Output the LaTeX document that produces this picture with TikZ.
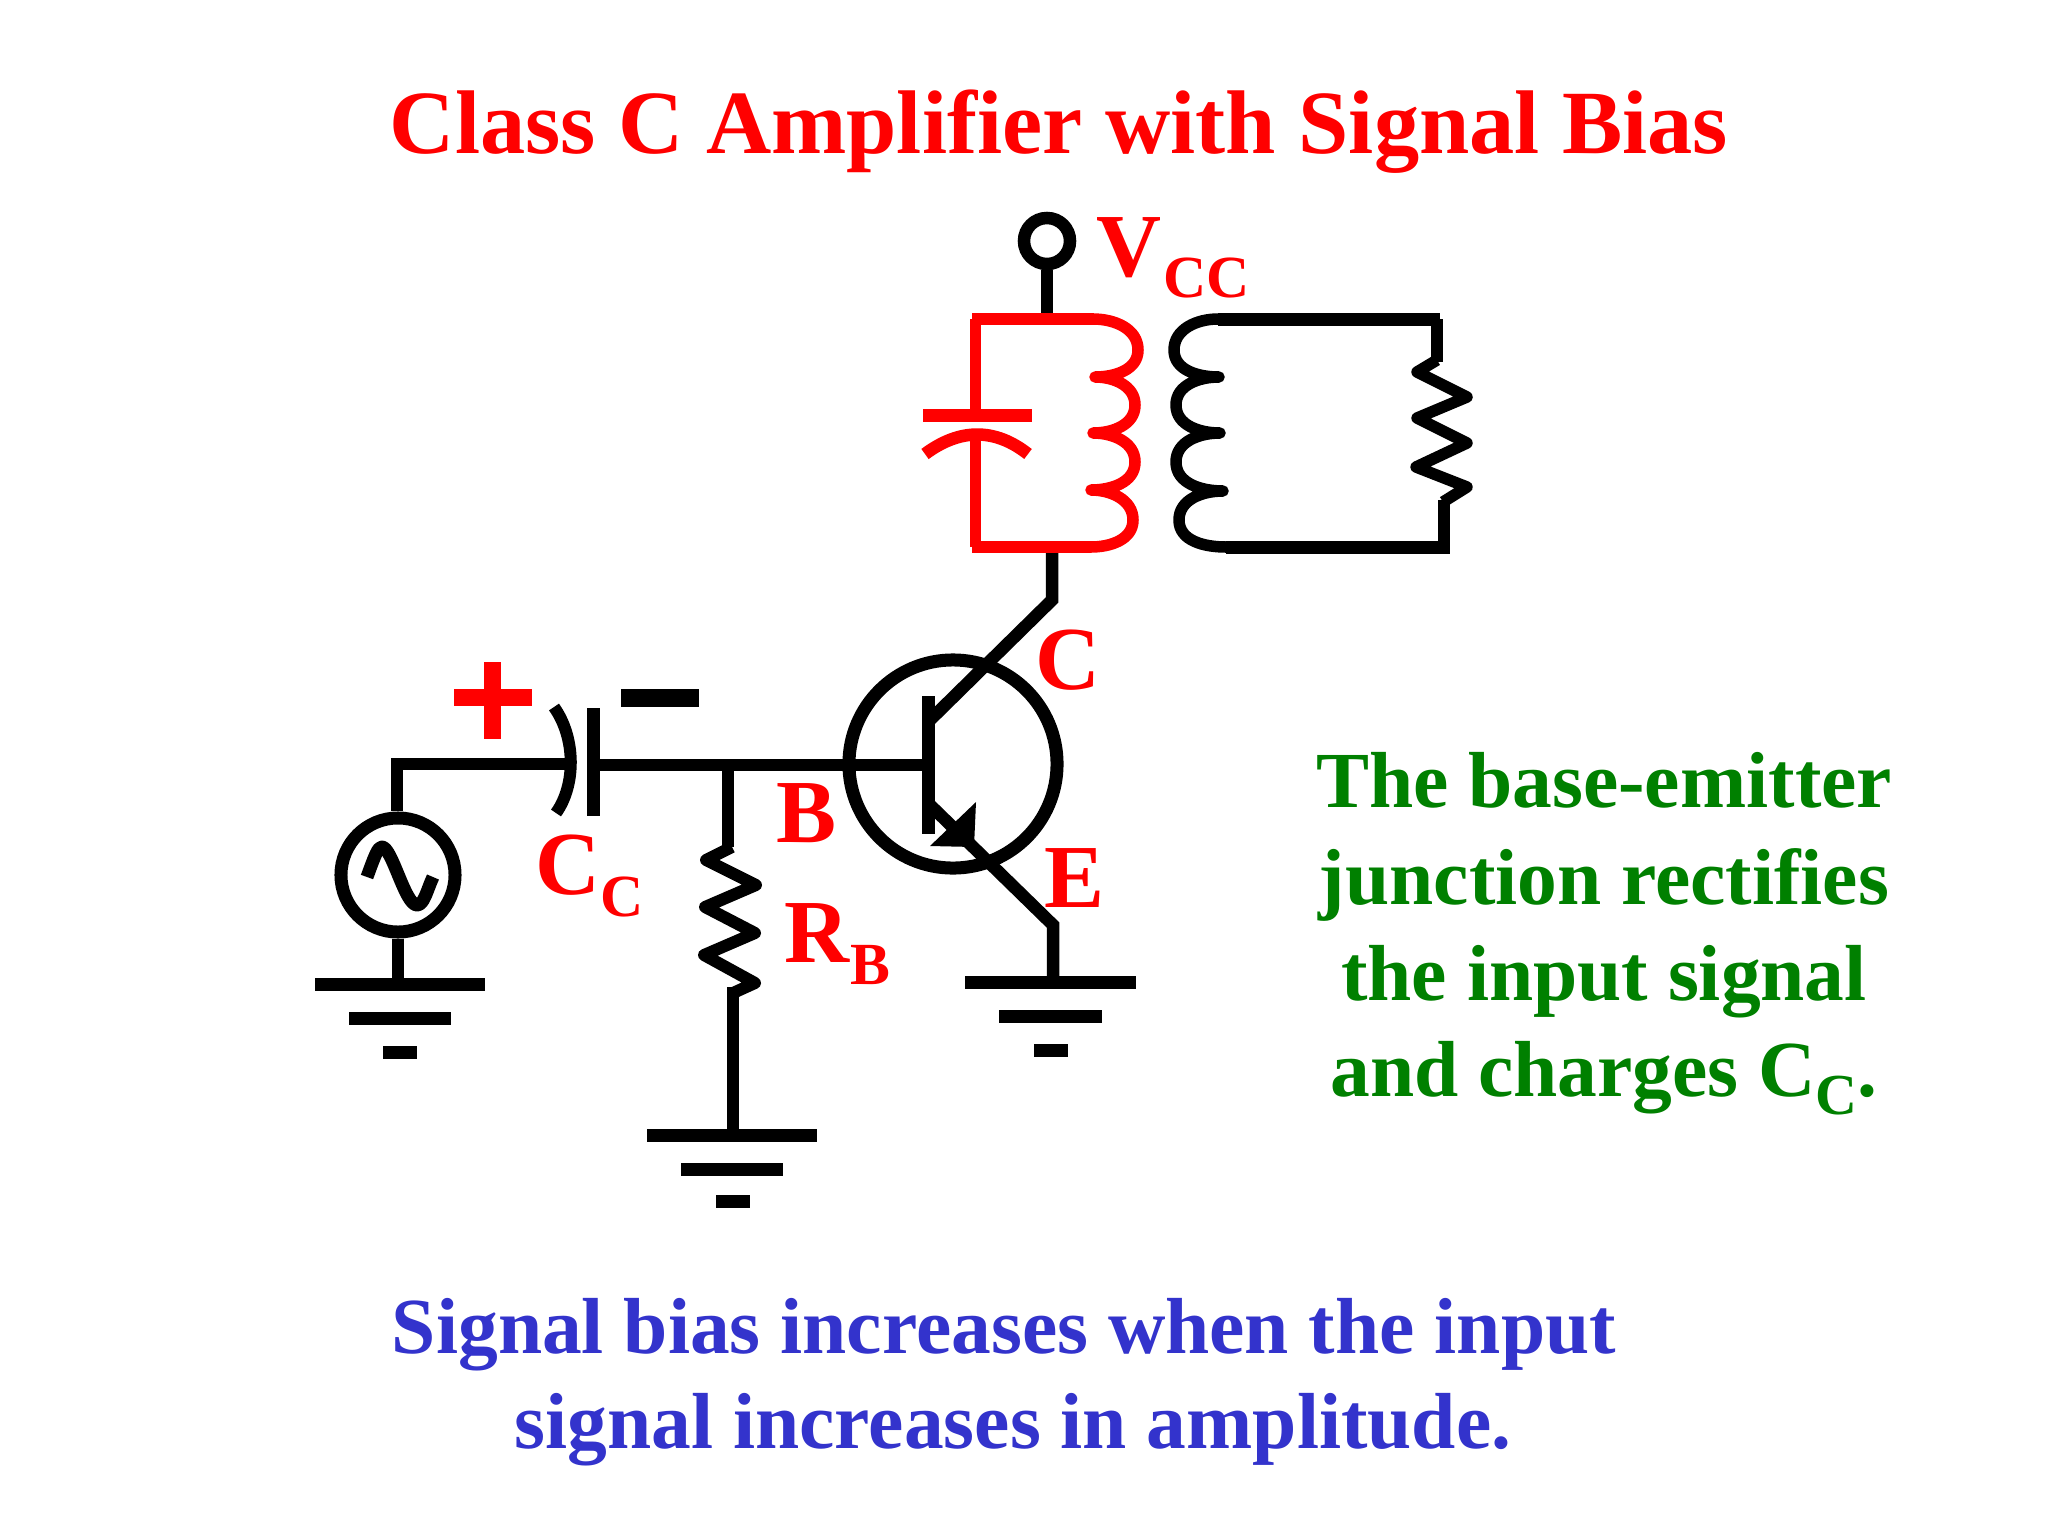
\documentclass[tikz,border=0pt]{standalone}
\usepackage{fontspec}
\setmainfont{Liberation Serif}
\newcommand{\fpx}[1]{\fontsize{#1}{#1}\selectfont\bfseries}
\definecolor{tred}{HTML}{FF0000}
\definecolor{tgreen}{HTML}{008000}
\definecolor{tblue}{HTML}{3333CC}
\begin{document}
\begin{tikzpicture}[x=0.01cm,y=-0.01cm,
  wire/.style={line width=1.25mm,black},
  plate/.style={line width=1.3mm},
  rwire/.style={line width=1.25mm,tred},
  coil/.style={line width=1.15mm,line cap=round,line join=round},
  title/.style={text=tred,font=\fpx{25.7},anchor=base,inner sep=0pt},
  lab/.style={text=tred,font=\fpx{25.6},anchor=base west,inner sep=0pt},
  sublab/.style={text=tred,font=\fpx{17},anchor=base west,inner sep=0pt},
  gtext/.style={text=tgreen,font=\fpx{22.6},anchor=base,inner sep=0pt},
  btext/.style={text=tblue,font=\fpx{22.6},anchor=base,inner sep=0pt},
  ring/.style={circle,draw=black,fill=white,inner sep=0pt}]
\fill[white] (0,0) rectangle (2048,1536);
\useasboundingbox (0,0) rectangle (2048,1536);

% named points
\coordinate (jtop) at (1049,319);
\coordinate (jbot) at (1052,547);
\coordinate (cbend) at (1052,600);
\coordinate (cbar) at (928,722);
\coordinate (ebar) at (928,803);
\coordinate (ebend) at (1053,925);
\coordinate (gE) at (1053,982);
\coordinate (gS) at (398,984);
\coordinate (gR) at (733,1135);
\coordinate (base) at (928,765);
\coordinate (jR) at (728,765);
\coordinate (capR) at (592,765);
\coordinate (capL) at (572,764);
\coordinate (corner) at (397,764);

% source, wires
\node[ring,line width=1.3mm,minimum size=1.14cm] (src) at (398,875) {};
\draw[wire] (src.south) -- (gS);
\draw[wire] (src.north -| corner) -- (corner) -- (capL);
\draw[line width=1.3mm,line join=round] (367,877) .. controls (375,855) and (378,847) .. (382,847)
  .. controls (392,847) and (405,905) .. (417,905)
  .. controls (424,905) and (427,890) .. (433,877);
% grounds
\draw[plate] (315,984) -- (485,984);
\draw[plate] (349,1018) -- (451,1018);
\draw[plate] (383,1052) -- (417,1052);
\draw[plate] (965,982) -- (1136,982);
\draw[plate] (999,1016) -- (1102,1016);
\draw[plate] (1034,1050) -- (1068,1050);
\draw[plate] (647,1135) -- (817,1135);
\draw[plate] (681,1169) -- (783,1169);
\draw[plate] (716,1201) -- (750,1201);
% coupling capacitor
\draw[line width=1.2mm] (554,707) .. controls (576,738) and (576,785) .. (556,813);
\draw[plate] (593,708) -- (593,816);
\draw[wire] (capR) -- (base);
% RB
\draw[wire] (jR) -- (728,847);
\draw[line width=1.2mm,line join=round] (732,847) -- (706,860) -- (756,885) -- (705,907) -- (755,933) -- (704,955) -- (755,983) -- (733,993);
\draw[wire] (733,987) -- (gR);
% transistor
\node[ring,fill=none,line width=1.3mm,minimum size=2.08cm] (q) at (953,764) {};
\draw[plate] (928,696) -- (928,834);
\draw[wire] (jbot) -- (cbend) -- (cbar);
\draw[wire] (ebar) -- (ebend) -- (gE);
\fill (976,802) -- (930,846) -- (974,847) -- cycle;
% Vcc
\node[ring,line width=1.25mm,minimum size=0.46cm] (vcc) at (1047,241) {};
\draw[wire] (vcc.south) -- (vcc.south |- jtop);
% tank
\draw[rwire] (972,319) -- (1094,319);
\draw[rwire] (972,547) -- (1091,547);
\draw[line width=1.1mm,tred] (975,319) -- (975,415);
\draw[line width=1.1mm,tred] (975,435) -- (975,547);
\draw[plate,tred] (923,415) -- (1032,415);
\draw[line width=1.25mm,tred] (925,454) .. controls (960,428) and (995,428) .. (1028,454);
\draw[coil,tred] (1093,319) to[out=0,in=90] (1138,350) to[out=-90,in=0] (1095,377)
  to[out=0,in=90] (1135,405) to[out=-90,in=0] (1093,433)
  to[out=0,in=90] (1135,462) to[out=-90,in=0] (1091,490)
  to[out=0,in=90] (1133,520) to[out=-90,in=0] (1091,547);
% secondary
\draw[coil] (1218,319) to[out=180,in=90] (1174,350) to[out=-90,in=180] (1219,377)
  to[out=180,in=90] (1176,405) to[out=-90,in=180] (1220,433)
  to[out=180,in=90] (1176,462) to[out=-90,in=180] (1223,491)
  to[out=180,in=90] (1179,520) to[out=-90,in=180] (1226,547);
\draw[plate] (1218,319) -- (1440,319);
\draw[plate] (1226,547) -- (1450,547);
\draw[line width=1.15mm] (1437,319) -- (1437,362);
\draw[line width=1.15mm,line join=round] (1437,360) -- (1417,372) -- (1467,397) -- (1417,418) -- (1467,443) -- (1416,467) -- (1467,487) -- (1443,502);
\draw[line width=1.15mm] (1444,500) -- (1444,547);
% signs
\draw[line width=1.7mm,tred] (454,697) -- (532,697);
\draw[line width=1.7mm,tred] (492.5,662) -- (492.5,739);
\draw[line width=1.75mm] (621,698) -- (699,698);

% texts
\node[title] (t0) at (1059,153) {Class C Amplifier with Signal Bias};
\node[lab] (lv) at (1096,276) {V};
\node[sublab] (lvs) at (1163,297) {CC};
\node[lab] (lc) at (1035,689) {C};
\node[lab] (le) at (1044,907) {E};
\node[lab] (lb) at (776,842) {B};
\node[lab] (lr) at (784,962) {R};
\node[sublab] (lrs) at (850,984) {B};
\node[lab] (lcc) at (535,894) {C};
\node[sublab] (lccs) at (600,916) {C};
\node[gtext] (g1) at (1604,807) {The base-emitter};
\node[gtext] (g2) at (1604,904) {junction rectifies};
\node[gtext] (g3) at (1604,1000) {the input signal};
\node[gtext] (g4) at (1604,1096) {and charges C\raisebox{-1.8mm}{\fontsize{16.5}{16.5}\selectfont C}.};
\node[btext] (b1) at (1004,1353) {Signal bias increases when the input};
\node[btext] (b2) at (1013,1448) {signal increases in amplitude.};
\end{tikzpicture}
\end{document}
